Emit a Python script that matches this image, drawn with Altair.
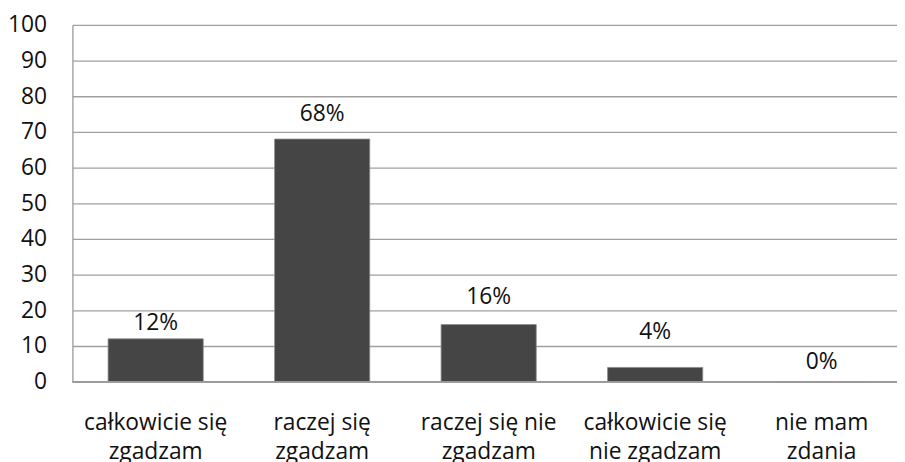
import altair as alt
import pandas as pd

categories = ["całkowicie się\nzgadzam", "raczej się\nzgadzam", "raczej się nie\nzgadzam",
              "całkowicie się\nnie zgadzam", "nie mam\nzdania"]
values = [12, 68, 16, 4, 0]
labels = ["12%", "68%", "16%", "4%", "0%"]
label_pos = [14.4, 73.1, 21.7, 11.9, 3.6]
y_ticks = [0, 10, 20, 30, 40, 50, 60, 70, 80, 90, 100]

df = pd.DataFrame({"cat": categories, "val": values, "lab": labels, "lpos": label_pos})

FONT = "Open Sans"
FS = 23

x_scale = alt.Scale(range=[0, 840], paddingInner=0.4286, paddingOuter=0.2143)
x_axis = alt.Axis(labelAngle=0, domain=False, ticks=False, labelFontSize=FS,
                  labelFont=FONT, labelColor="#111111", labelPadding=30,
                  labelLineHeight=30, labelOverlap=False,
                  labelExpr="split(datum.label, '\\n')")
y_scale = alt.Scale(domain=[0, 100], nice=False)
y_axis = alt.Axis(values=y_ticks, ticks=False, domain=True, domainColor="#999999",
                  domainWidth=1.3, grid=True, gridColor="#a0a0a0", gridWidth=1.3,
                  labelFontSize=FS, labelFont=FONT, labelColor="#111111",
                  labelOverlap=False, labelPadding=26)

bars = alt.Chart(df).mark_bar(color="#454545", stroke="#8a8a8a", strokeWidth=0.8).encode(
    x=alt.X("cat:N", sort=categories, title=None, scale=x_scale, axis=x_axis),
    y=alt.Y("val:Q", title=None, scale=y_scale, axis=y_axis),
)

text = alt.Chart(df).mark_text(fontSize=FS, font=FONT, color="#111111", baseline="alphabetic").encode(
    x=alt.X("cat:N", sort=categories, title=None, scale=x_scale, axis=x_axis),
    y=alt.Y("lpos:Q", title=None, scale=y_scale, axis=y_axis),
    text="lab:N",
)

bottom = alt.Chart(df).mark_rule(color="#999999", strokeWidth=1.3).encode(
    x=alt.value(0), x2=alt.value(840), y=alt.value(360)
)

chart = alt.layer(bars, bottom, text).properties(
    width=832, height=360,
    autosize=alt.AutoSizeParams(type="none"),
    padding={"left": 65, "top": 15, "right": 0, "bottom": 79},
).configure_view(stroke=None)

chart.save("out.html", embed_options={"renderer": "svg", "actions": False})
